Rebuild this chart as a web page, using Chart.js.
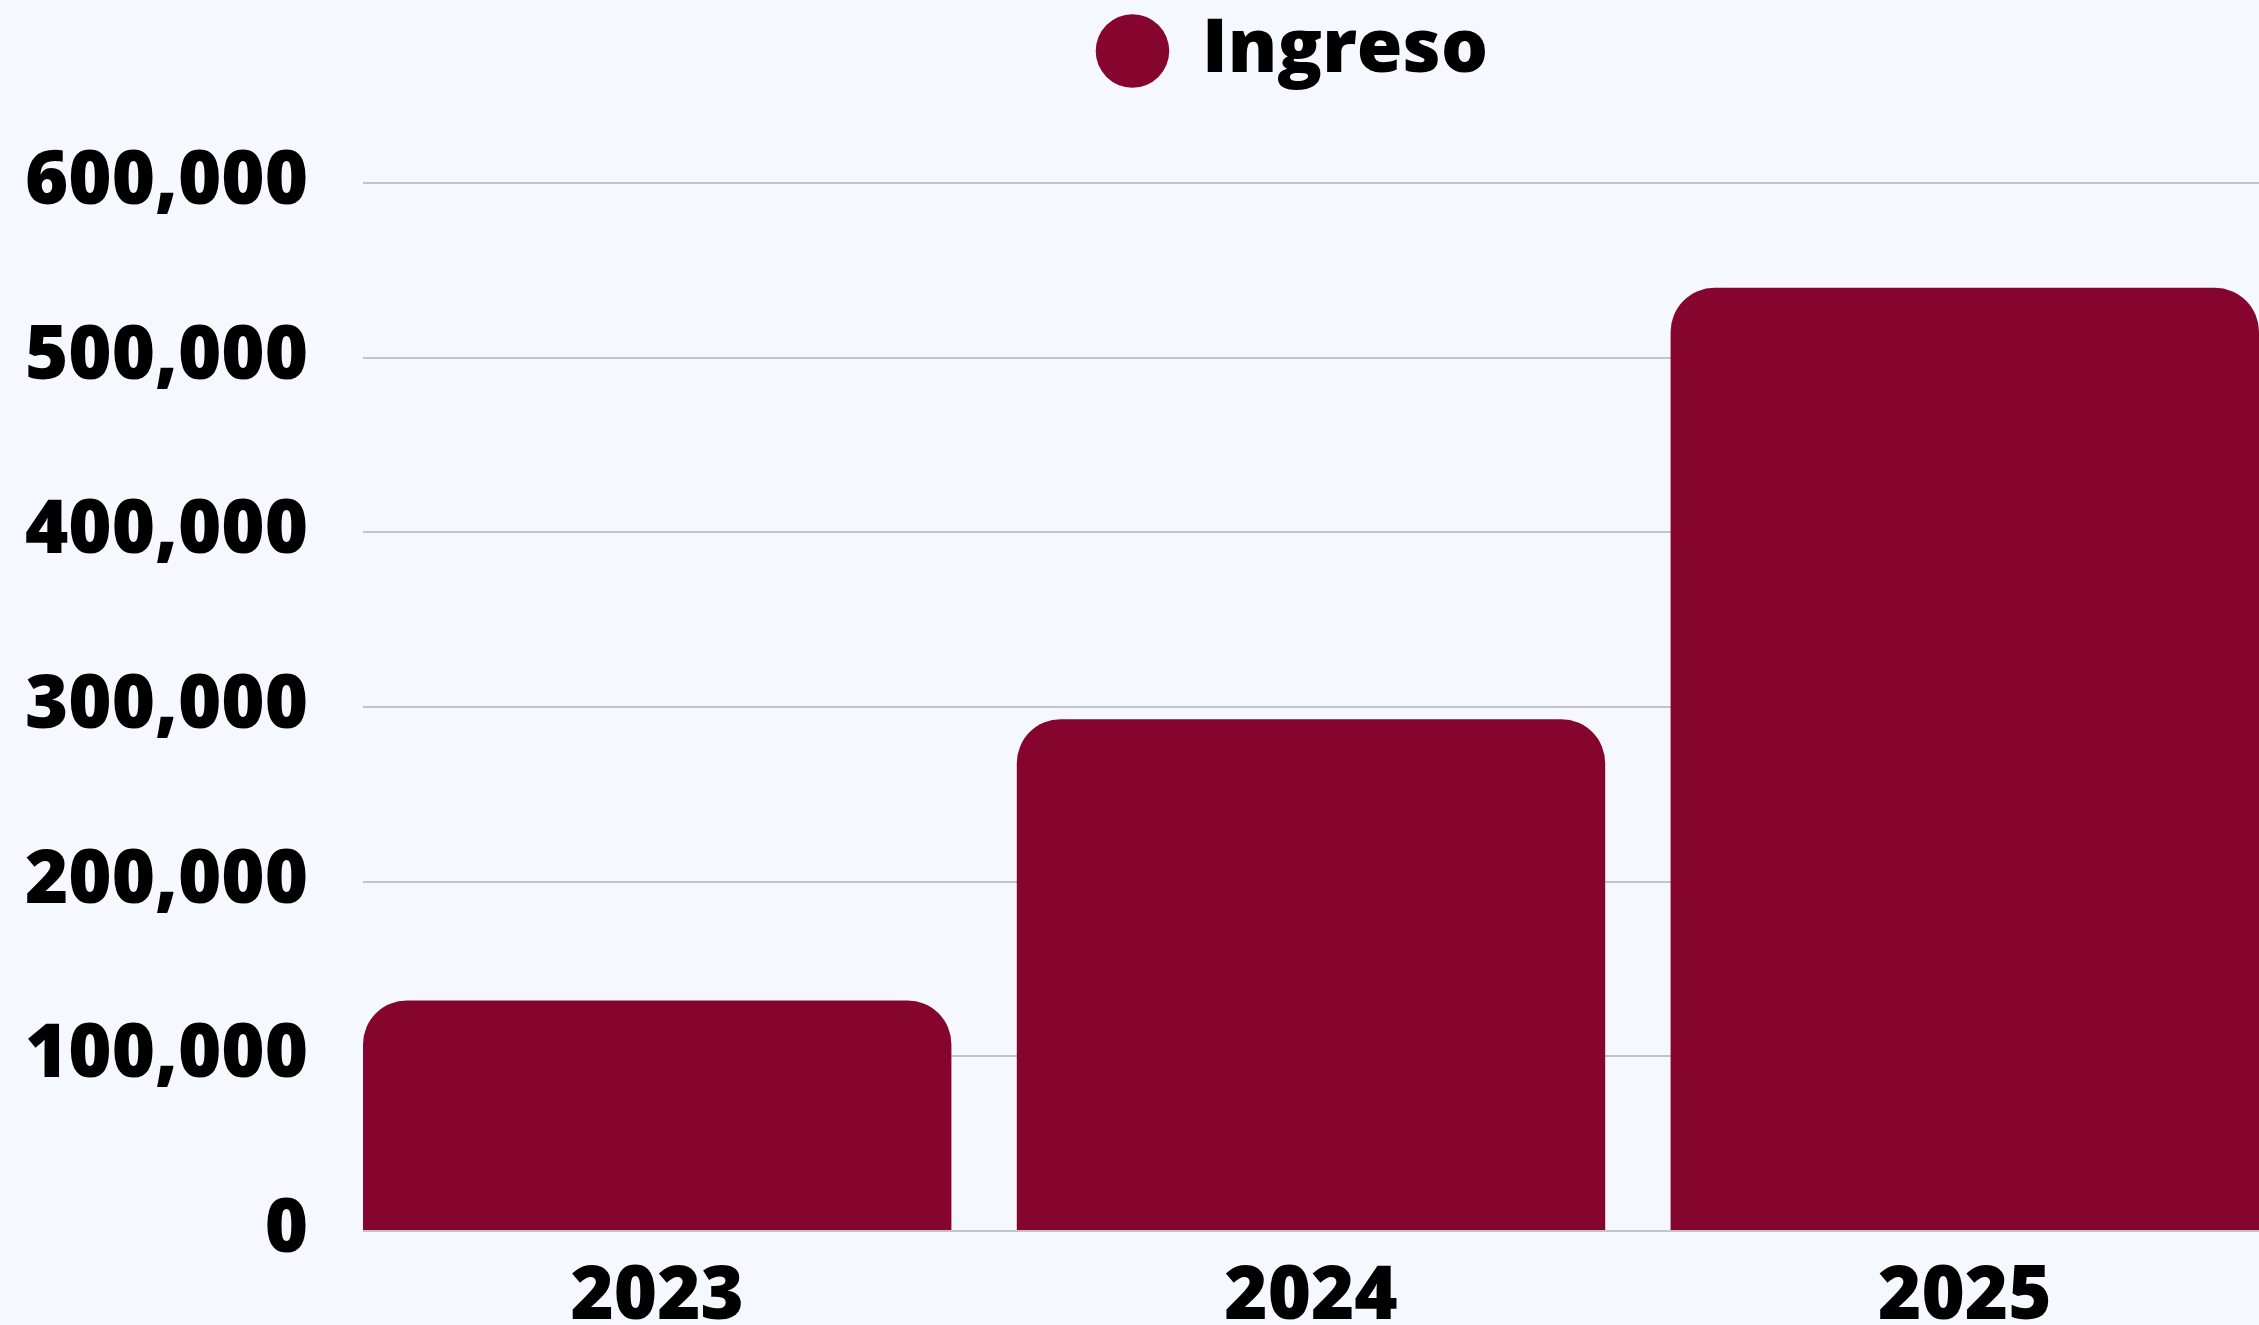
<!DOCTYPE html>
<html>
<head>
<meta charset="utf-8">
<script src="https://cdn.jsdelivr.net/npm/chart.js@4.4.1/dist/chart.umd.min.js"></script>
<style>
  html, body { margin: 0; padding: 0; background: #f5f8fe; overflow: hidden; }
  #wrap { width: 2259px; height: 1325px; }
</style>
</head>
<body>
<div id="wrap"><canvas id="chart" width="2259" height="1325"></canvas></div>
<script>
// years on the x axis and the income per year
const years = ["2023", "2024", "2025"];
const ingreso = [132000, 293000, 540000];
const yTicks = [0, 100000, 200000, 300000, 400000, 500000, 600000];

const barColor = "#85052f";
const textFont = { family: "'Open Sans', sans-serif", size: 74, weight: 800 };

// legend height is forced so the plot starts where the 600,000 line is,
// and the legend item sits a bit left of the plot centre like the original
const legendBox = {
  id: "legendBox",
  beforeInit(chart) {
    const origFit = chart.legend.fit;
    chart.legend.fit = function () {
      origFit.bind(chart.legend)();
      this.height = 183;
    };
  },
  afterLayout(chart) {
    chart.legend.left -= 34;
  }
};

document.addEventListener("DOMContentLoaded", () => {
  const ctx = document.getElementById("chart").getContext("2d");
  new Chart(ctx, {
    type: "bar",
    data: {
      datasets: [{
        label: "Ingreso",
        data: ingreso.map((v, i) => ({ x: i, y: v })),
        backgroundColor: barColor,
        borderColor: barColor,
        borderWidth: 0,
        borderRadius: 44,
        categoryPercentage: 1,
        barPercentage: 0.9
      }]
    },
    options: {
      responsive: false,
      animation: false,
      devicePixelRatio: 1,
      locale: "en-US",
      layout: { padding: 0 },
      plugins: {
        tooltip: { enabled: false },
        legend: {
          position: "top",
          fullSize: false,
          labels: {
            usePointStyle: true,
            pointStyle: "circle",
            boxWidth: 65,
            boxHeight: 52,
            padding: 14,
            color: "#000",
            font: textFont
          }
        }
      },
      scales: {
        x: {
          type: "linear",
          min: -0.45,
          max: 2.45,
          offset: false,
          grid: { display: false, drawTicks: false },
          border: { display: false },
          ticks: {
            stepSize: 1,
            includeBounds: false,
            autoSkip: false,
            maxRotation: 0,
            padding: 23,
            color: "#000",
            font: textFont,
            callback: v => years[v]
          },
          afterFit(scale) { scale.height = 94; }
        },
        y: {
          min: 0,
          max: 600000,
          afterBuildTicks(scale) { scale.ticks = yTicks.map(v => ({ value: v })); },
          // invisible tick marks push the labels away from the plot
          grid: { color: "#c2c4ca", lineWidth: 2, drawTicks: true, tickLength: 55, tickColor: "rgba(0,0,0,0)" },
          border: { display: false },
          ticks: {
            padding: 0,
            color: "#000",
            font: textFont
          },
          afterFit(scale) { scale.width = 363; }
        }
      }
    },
    plugins: [legendBox]
  });
});
</script>
</body>
</html>
